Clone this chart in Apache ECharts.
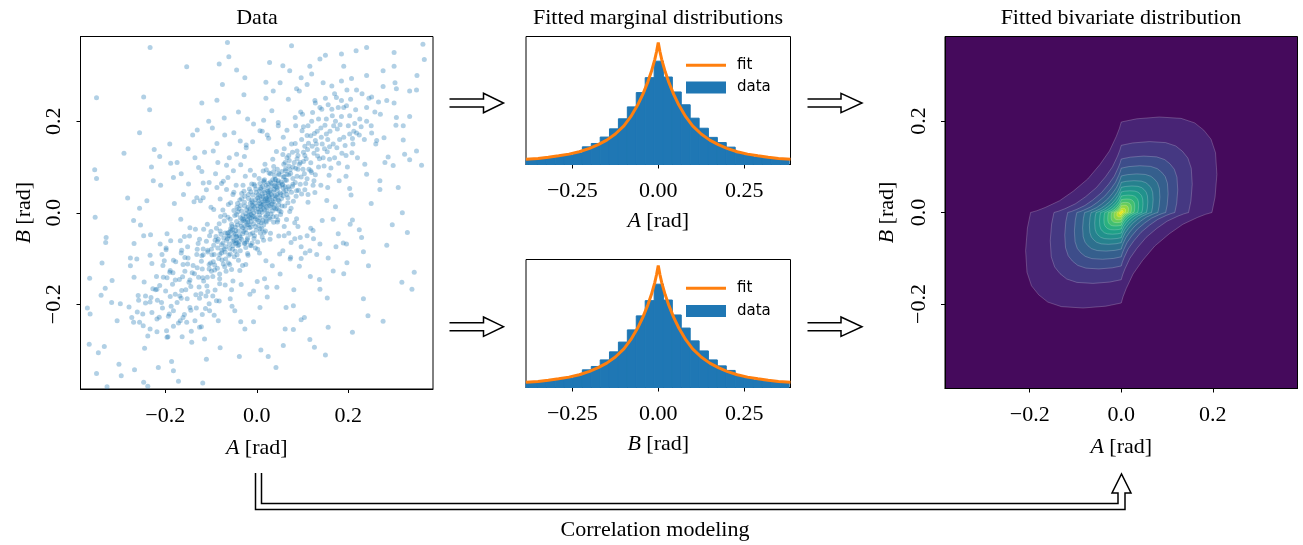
<!DOCTYPE html>
<html>
<head>
<meta charset="utf-8">
<script src="https://cdn.jsdelivr.net/npm/echarts@6/dist/echarts.min.js"></script>
<style>
  html, body { margin: 0; padding: 0; background: #fff; }
  #chart { width: 1303px; height: 545px; }
</style>
</head>
<body>
<div id="chart"></div>
<script>
const scatterPoints = [
  [0.003,0.008],[-0.012,-0.004],[0.018,0.026],[-0.025,-0.019],[0.007,-0.011],[-0.004,0.021],[0.031,0.012],[-0.016,-0.033],[0.012,0.041],[-0.033,0.004],
  [0.024,-0.002],[-0.007,-0.024],[0.041,0.037],[-0.029,-0.041],[0.002,0.033],[0.015,-0.027],[-0.019,0.012],[0.036,0.024],[-0.042,-0.027],[0.009,0.019],
  [-0.001,-0.038],[0.027,0.046],[-0.011,0.028],[0.044,0.009],[-0.036,-0.011],[0.005,0.002],[-0.021,-0.026],[0.020,0.014],[-0.009,0.007],[0.032,0.040],
  [-0.046,-0.039],[0.013,-0.017],[-0.027,0.023],[0.038,0.051],[-0.014,-0.047],[0.022,0.031],[-0.003,-0.013],[0.047,0.028],[-0.038,-0.050],[0.006,0.047],
  [0.017,0.006],[-0.023,-0.008],[0.029,-0.014],[-0.008,0.039],[0.011,-0.035],[-0.031,-0.033],[0.039,0.018],[-0.017,0.002],[0.024,0.055],[-0.044,-0.019],
  [0.001,0.015],[-0.006,-0.056],[0.034,0.004],[-0.026,0.036],[0.051,0.043],[-0.050,-0.045],[0.014,0.024],[-0.012,-0.019],[0.026,0.021],[-0.002,0.052],
  [0.043,-0.008],[-0.035,0.016],[0.008,-0.044],[-0.020,-0.055],[0.019,0.036],[-0.010,0.017],[0.033,0.058],[-0.041,0.002],[0.004,-0.028],[0.028,0.030],
  [-0.015,-0.011],[0.045,0.049],[-0.033,-0.058],[0.010,0.030],[-0.024,-0.002],[0.037,-0.021],[-0.005,0.011],[0.016,0.049],[-0.047,-0.031],[0.021,-0.006],
  [0.004,0.026],[-0.014,-0.002],[0.029,0.016],[-0.031,-0.046],[0.013,0.058],[-0.048,-0.006],[0.054,0.031],[-0.022,-0.064],[0.035,0.072],[-0.057,-0.035],
  [0.010,-0.022],[-0.001,0.044],[0.042,0.064],[-0.039,-0.070],[0.023,0.004],[-0.018,0.031],[0.058,0.054],[-0.064,-0.057],[0.002,-0.064],[0.027,0.087],
  [-0.009,-0.044],[0.048,0.017],[-0.028,0.047],[0.016,0.067],[-0.052,-0.063],[0.066,0.040],[-0.035,-0.022],[0.007,0.036],[-0.012,-0.072],[0.039,0.081],
  [0.031,-0.003],[-0.043,0.012],[0.019,-0.040],[-0.004,0.059],[0.053,0.067],[-0.058,-0.014],[0.012,0.001],[-0.025,-0.037],[0.044,0.034],[-0.016,0.052],
  [0.001,-0.016],[-0.032,-0.013],[0.025,0.043],[-0.045,-0.053],[0.060,0.079],[-0.007,0.000],[0.014,0.091],[-0.069,-0.044],[0.071,0.052],[-0.020,-0.089],
  [0.008,0.052],[-0.037,0.028],[0.049,0.005],[-0.003,-0.030],[0.036,0.046],[-0.053,-0.080],[0.020,-0.018],[-0.011,0.063],[0.063,0.096],[-0.074,-0.066],
  [0.011,0.016],[-0.019,-0.021],[0.027,0.035],[-0.034,-0.030],[0.006,-0.005],[-0.010,0.024],[0.038,0.011],[-0.023,-0.044],[0.017,0.044],[-0.039,0.009],
  [0.033,0.027],[-0.013,-0.031],[0.050,0.058],[-0.049,-0.061],[0.003,0.039],[0.021,-0.020],[-0.026,0.015],[0.045,0.040],[-0.055,-0.025],[0.014,0.010],
  [-0.005,-0.050],[0.032,0.064],[-0.018,0.040],[0.055,0.015],[-0.044,-0.004],[0.009,0.006],[-0.029,-0.017],[0.024,0.022],[-0.015,0.009],[0.040,0.030],
  [-0.060,-0.050],[0.018,-0.010],[-0.033,0.031],[0.047,0.070],[-0.021,-0.059],[0.026,0.038],[-0.008,-0.008],[0.058,0.037],[-0.046,-0.067],[0.009,0.055],
  [0.022,0.012],[-0.028,-0.014],[0.036,-0.009],[-0.013,0.046],[0.016,-0.043],[-0.040,-0.040],[0.049,0.025],[-0.022,0.006],[0.030,0.067],[-0.054,-0.030],
  [0.006,0.021],[-0.010,-0.066],[0.041,0.008],[-0.033,0.042],[0.062,0.057],[-0.063,-0.051],[0.019,0.030],[-0.017,-0.026],[0.033,0.019],[-0.006,0.062],
  [0.052,-0.004],[-0.042,0.020],[0.012,-0.053],[-0.027,-0.067],[0.024,0.047],[-0.014,0.021],[0.041,0.073],[-0.050,0.005],[0.007,-0.035],[0.035,0.036],
  [-0.020,-0.016],[0.056,0.063],[-0.041,-0.072],[0.013,0.035],[-0.030,-0.006],[0.046,-0.016],[-0.008,0.015],[0.021,0.060],[-0.057,-0.040],[0.027,-0.011],
  [0.000,0.002],[-0.004,-0.009],[0.008,0.013],[-0.012,-0.012],[0.015,0.019],[-0.018,-0.007],[0.023,0.027],[-0.026,-0.029],[0.004,-0.019],[-0.002,0.029],
  [0.029,0.049],[-0.036,-0.054],[0.044,0.054],[-0.047,-0.047],[0.039,0.059],[-0.038,-0.063],[0.065,0.071],[-0.068,-0.074],[0.070,0.083],[-0.076,-0.082],
  [0.017,0.072],[-0.024,-0.076],[0.068,0.022],[-0.071,-0.018],[0.059,0.046],[-0.061,-0.043],[0.048,0.086],[-0.047,-0.084],[0.079,0.062],[-0.084,-0.058],
  [0.005,0.075],[-0.003,-0.077],[0.075,0.010],[-0.079,-0.008],[0.037,0.090],[-0.043,-0.092],[0.087,0.048],[-0.089,-0.052],[0.073,0.094],[-0.081,-0.091],
  [0.062,0.071],[0.055,0.090],[0.078,0.058],[0.070,0.102],[0.088,0.080],[-0.060,-0.068],[-0.072,-0.055],[-0.058,-0.090],[-0.085,-0.077],[-0.068,-0.101],
  [0.095,0.062],[0.064,0.048],[0.049,0.083],[0.082,0.110],[0.101,0.095],[-0.091,-0.060],[-0.052,-0.072],[-0.077,-0.088],[-0.098,-0.092],[-0.064,-0.044],
  [0.040,0.072],[0.068,0.033],[0.056,0.061],[0.091,0.049],[0.074,0.086],[-0.043,-0.066],[-0.080,-0.040],[-0.055,-0.054],[-0.094,-0.071],[-0.071,-0.079],
  [0.030,0.085],[0.098,0.041],[0.059,0.106],[0.110,0.074],[0.085,0.097],[-0.036,-0.083],[-0.103,-0.050],[-0.062,-0.110],[-0.107,-0.086],[-0.083,-0.100],
  [0.061,0.015],[0.015,0.070],[0.072,0.003],[-0.005,0.082],[0.080,0.025],[-0.063,-0.010],[-0.014,-0.071],[-0.074,0.006],[0.002,-0.080],[-0.082,-0.024],
  [0.045,0.095],[0.105,0.050],[0.066,0.120],[0.118,0.092],[0.090,0.125],[-0.049,-0.096],[-0.100,-0.041],[-0.070,-0.118],[-0.120,-0.094],[-0.092,-0.125],
  [0.052,0.040],[0.047,0.065],[0.069,0.057],[0.058,0.078],[0.076,0.045],[-0.053,-0.037],[-0.045,-0.061],[-0.066,-0.060],[-0.059,-0.078],[-0.078,-0.047],
  [0.025,0.064],[0.084,0.066],[0.037,0.101],[0.097,0.078],[0.063,0.092],[-0.026,-0.066],[-0.086,-0.063],[-0.040,-0.104],[-0.099,-0.080],[-0.061,-0.093],
  [0.053,0.002],[0.007,0.064],[-0.052,0.040],[0.048,-0.051],[-0.030,0.060],[0.060,-0.030],[-0.057,0.022],[0.029,-0.058],[-0.066,0.051],[0.070,-0.045],
  [0.035,0.117],[0.112,0.040],[0.078,0.132],[0.128,0.083],[0.102,0.112],[-0.031,-0.115],[-0.116,-0.036],[-0.081,-0.134],[-0.130,-0.080],[-0.104,-0.113],
  [0.042,0.057],[0.086,0.036],[0.021,0.094],[0.071,0.114],[0.107,0.064],[-0.044,-0.052],[-0.088,-0.034],[-0.019,-0.093],[-0.073,-0.112],[-0.110,-0.062],
  [0.093,0.106],[0.057,0.127],[0.123,0.060],[0.079,0.075],[0.066,0.084],[-0.095,-0.107],[-0.055,-0.124],[-0.125,-0.058],[-0.077,-0.070],[-0.069,-0.086],
  [0.105,0.125],[0.118,0.109],[0.132,0.138],[0.095,0.110],[0.141,0.165],[0.113,0.152],[0.154,0.133],[0.126,0.173],[0.167,0.150],[0.102,0.132],
  [0.137,0.118],[0.149,0.191],[0.121,0.145],[0.176,0.183],[0.088,0.118],[0.159,0.117],[0.110,0.169],[0.193,0.147],[0.135,0.205],[0.172,0.200],
  [0.090,0.095],[0.147,0.102],[0.084,0.151],[0.181,0.160],[0.114,0.095],[0.128,0.158],[0.164,0.226],[0.203,0.212],[0.152,0.172],[0.190,0.230],
  [0.099,0.179],[0.179,0.108],[0.214,0.195],[0.133,0.124],[0.159,0.144],[0.122,0.219],[0.224,0.170],[0.186,0.130],[0.143,0.150],[0.111,0.138],
  [0.070,0.125],[0.125,0.070],[0.079,0.100],[0.104,0.085],[0.062,0.110],[0.155,0.055],[0.058,0.165],[0.195,0.080],[0.085,0.190],[0.240,0.200],
  [0.216,0.225],[0.245,0.250],[0.185,0.245],[0.258,0.220],[0.228,0.188],[0.197,0.268],[0.266,0.242],[0.168,0.190],[0.209,0.162],[0.156,0.236],
  [-0.104,-0.123],[-0.121,-0.106],[-0.136,-0.133],[-0.092,-0.114],[-0.144,-0.161],[-0.116,-0.149],[-0.157,-0.128],[-0.122,-0.177],[-0.169,-0.146],[-0.099,-0.128],
  [-0.139,-0.115],[-0.152,-0.188],[-0.118,-0.142],[-0.178,-0.178],[-0.086,-0.121],[-0.161,-0.113],[-0.107,-0.172],[-0.196,-0.142],[-0.132,-0.208],[-0.174,-0.196],
  [-0.093,-0.091],[-0.150,-0.099],[-0.081,-0.155],[-0.184,-0.156],[-0.117,-0.092],[-0.126,-0.162],[-0.161,-0.229],[-0.206,-0.208],[-0.155,-0.168],[-0.193,-0.226],
  [-0.096,-0.182],[-0.182,-0.104],[-0.217,-0.191],[-0.130,-0.120],[-0.162,-0.140],[-0.119,-0.222],[-0.227,-0.166],[-0.189,-0.126],[-0.146,-0.147],[-0.108,-0.141],
  [-0.067,-0.128],[-0.128,-0.067],[-0.076,-0.103],[-0.107,-0.082],[-0.059,-0.113],[-0.158,-0.052],[-0.055,-0.168],[-0.198,-0.077],[-0.082,-0.193],[-0.243,-0.197],
  [-0.213,-0.228],[-0.248,-0.247],[-0.182,-0.248],[-0.261,-0.217],[-0.231,-0.185],[-0.194,-0.271],[-0.269,-0.239],[-0.165,-0.187],[-0.212,-0.159],[-0.153,-0.239],
  [0.130,0.150],[0.145,0.120],[0.160,0.178],[0.118,0.168],[0.175,0.142],[0.152,0.205],[0.190,0.165],[0.135,0.100],[0.105,0.145],[0.170,0.120],
  [0.200,0.190],[0.140,0.185],[0.185,0.210],[0.125,0.130],[0.162,0.098],[0.098,0.160],[0.210,0.150],[0.155,0.160],[0.120,0.200],[0.195,0.125],
  [0.225,0.205],[0.178,0.230],[0.148,0.140],[0.132,0.178],[0.212,0.178],[0.165,0.212],[0.108,0.118],[0.182,0.192],[0.142,0.226],[0.235,0.160],
  [0.120,0.088],[0.088,0.135],[0.158,0.082],[0.076,0.150],[0.198,0.100],[0.112,0.190],[0.240,0.230],[0.205,0.248],[0.250,0.190],[0.170,0.260],
  [0.140,0.060],[0.060,0.140],[0.180,0.070],[0.100,0.215],[0.220,0.120],[0.128,0.240],[0.260,0.150],[0.150,0.250],[0.230,0.260],[0.270,0.215],
  [-0.127,-0.141],[-0.151,-0.112],[-0.168,-0.182],[-0.109,-0.160],[-0.183,-0.131],[-0.144,-0.213],[-0.199,-0.171],[-0.131,-0.091],[-0.096,-0.139],[-0.177,-0.107],
  [-0.208,-0.196],[-0.133,-0.179],[-0.191,-0.221],[-0.119,-0.123],[-0.165,-0.088],[-0.091,-0.169],[-0.219,-0.139],[-0.148,-0.152],[-0.112,-0.209],[-0.205,-0.115],
  [-0.233,-0.195],[-0.171,-0.241],[-0.141,-0.131],[-0.125,-0.187],[-0.221,-0.168],[-0.158,-0.222],[-0.101,-0.110],[-0.189,-0.183],[-0.135,-0.236],[-0.246,-0.151],
  [-0.117,-0.079],[-0.081,-0.144],[-0.151,-0.074],[-0.069,-0.158],[-0.207,-0.091],[-0.104,-0.199],[-0.249,-0.221],[-0.197,-0.258],[-0.259,-0.181],[-0.163,-0.271],
  [-0.147,-0.051],[-0.052,-0.149],[-0.188,-0.061],[-0.093,-0.224],[-0.229,-0.111],[-0.121,-0.249],[-0.268,-0.141],[-0.143,-0.259],[-0.238,-0.269],[-0.279,-0.206],
  [0.112,0.023],[0.018,0.106],[-0.108,-0.025],[-0.024,-0.113],[0.127,0.044],[0.043,0.134],[-0.134,-0.036],[-0.037,-0.126],[0.087,-0.013],[-0.014,0.093],
  [-0.094,0.007],[0.006,-0.088],[0.153,0.027],[0.026,0.163],[-0.146,-0.033],[-0.034,-0.157],[0.118,-0.034],[-0.027,0.123],[-0.123,0.026],[0.034,-0.116],
  [0.083,-0.057],[-0.063,0.077],[-0.077,0.064],[0.057,-0.083],[0.172,0.013],[0.012,0.178],[-0.166,-0.014],[-0.007,-0.171],[0.097,-0.074],[-0.066,0.104],
  [-0.104,0.066],[0.074,-0.097],[0.143,-0.017],[-0.023,0.148],[-0.137,0.024],[0.017,-0.144],[0.203,0.053],[0.047,0.197],[-0.196,-0.046],[-0.054,-0.204],
  [-0.060,0.120],[-0.085,0.110],[-0.120,0.090],[-0.150,0.140],[-0.070,0.170],[-0.160,0.040],[-0.190,0.150],[-0.105,0.200],[-0.040,0.220],[-0.210,0.060],
  [-0.180,0.020],[-0.050,0.175],[-0.135,0.120],[-0.095,0.135],[-0.020,0.205],[-0.165,0.085],[-0.230,0.100],[-0.120,0.240],[-0.075,0.280],[-0.290,0.130],
  [0.124,-0.057],[0.106,-0.088],[0.093,-0.117],[0.137,-0.146],[0.173,-0.074],[0.044,-0.163],[0.154,-0.186],[0.197,-0.109],[0.224,-0.037],[0.064,-0.207],
  [0.023,-0.184],[0.178,-0.046],[0.117,-0.139],[0.131,-0.091],[0.209,-0.016],[0.081,-0.168],[0.097,-0.234],[0.244,-0.116],[0.284,-0.071],[0.126,-0.294],
  [0.250,0.020],[0.280,0.110],[0.320,0.190],[0.300,0.240],[0.350,0.300],[0.020,0.250],[0.110,0.280],[0.190,0.320],[0.240,0.300],[0.300,0.350],
  [-0.254,-0.027],[-0.276,-0.116],[-0.317,-0.196],[-0.305,-0.236],[-0.346,-0.306],[-0.026,-0.254],[-0.114,-0.276],[-0.186,-0.325],[-0.245,-0.296],[-0.296,-0.356],
  [-0.233,0.361],[-0.064,0.372],[-0.061,0.341],[-0.082,0.325],[-0.153,0.319],[-0.044,0.312],[-0.026,0.295],[-0.350,0.251],[-0.247,0.253],[-0.234,0.225],
  [-0.087,0.246],[-0.256,0.175],[-0.224,0.138],[-0.212,0.123],[-0.354,0.094],[-0.350,0.075],[-0.282,0.032],
  [-0.130,0.181],[-0.140,0.170],[-0.097,0.185],[-0.087,0.151],[-0.071,0.207],[-0.114,0.132],[-0.174,0.110],[-0.188,0.108],[-0.127,0.099],[-0.182,0.077],
  [-0.149,0.063],[-0.117,0.065],[-0.240,0.026],[-0.226,0.070],[-0.256,0.010],
  [-0.131,0.033],[-0.117,0.033],[-0.087,0.055],[-0.073,0.069],[-0.051,0.092],[-0.044,0.128],[-0.023,0.142],[-0.036,0.157],[-0.009,0.155],[0.007,0.179],
  [0.023,0.170],[0.047,0.190],[0.066,0.180],[0.084,0.208],[0.102,0.188],[0.096,0.220],[0.138,0.230],[0.196,0.234],
  [-0.028,0.258],[-0.007,0.194],[0.015,0.202],[0.033,0.223],[0.020,0.285],[0.036,0.266],[0.051,0.284],[0.072,0.310],[0.097,0.295],[0.087,0.271],
  [0.120,0.303],[0.145,0.284],[0.164,0.277],[0.185,0.288],[0.207,0.293],[0.218,0.268],[0.174,0.252],[0.127,0.245],[0.093,0.266],[0.069,0.248],
  [0.251,0.253],[0.276,0.276],[0.302,0.284],[0.305,0.271],[0.284,0.245],[0.305,0.208],[0.304,0.191],[0.278,0.164],[0.262,0.158],[0.287,0.122],
  [0.298,0.103],[0.269,0.070],[0.240,0.084],[0.269,0.051],[0.323,0.128],[0.334,0.116],[0.236,0.106],[0.208,0.131],[0.203,0.172],[0.218,0.174],
  [0.251,0.174],[0.206,0.039],
  [0.076,0.365],[0.363,0.368],[0.366,0.335],[0.240,0.361],[0.217,0.354],[0.185,0.347],[0.150,0.344],[0.138,0.336],[0.116,0.320],[0.057,0.321],
  [0.028,0.328],[0.276,0.310],[0.300,0.320],[0.334,0.266],[0.349,0.268],[0.360,0.104],[0.334,0.210],[0.320,0.159],[0.349,0.135],[0.309,0.055],[0.318,0.000],
  [0.329,-0.043],[0.296,-0.026],[0.233,-0.085],[0.189,-0.066],[0.167,-0.127],[0.190,-0.133],[0.138,-0.167],[0.080,-0.203],[0.062,-0.254],[0.007,-0.207],
  [-0.007,-0.238],[0.317,-0.152],[0.339,-0.167],[0.344,-0.130],[0.233,-0.188],[0.276,-0.237],[0.243,-0.225],[0.209,-0.261],[0.156,-0.250],[0.150,-0.311],
  [0.116,-0.277],[0.104,-0.229],[0.080,-0.255],[0.058,-0.290],[0.042,-0.338],[0.025,-0.314],[0.009,-0.300],[-0.038,-0.314],[-0.080,-0.295],[-0.110,-0.320],
  [-0.118,-0.372],[-0.182,-0.345],[-0.171,-0.368],[-0.215,-0.338],[-0.238,-0.379],[-0.247,-0.370],[-0.267,-0.343],[-0.301,-0.331],[-0.327,-0.380],[-0.350,-0.351],
  [-0.333,-0.292],[-0.366,-0.287],[-0.364,-0.221],[-0.370,-0.208],[-0.298,-0.199],[-0.340,-0.180],[-0.331,-0.165],[-0.316,-0.148],[-0.365,-0.143],[-0.338,-0.110],
  [-0.330,-0.065],[-0.329,-0.054],[-0.353,-0.010],
  [-0.269,-0.017],[-0.247,-0.050],[-0.232,-0.048],[-0.268,-0.067],[-0.276,-0.099],[-0.262,-0.101],[-0.233,-0.093],[-0.211,-0.068],[-0.198,-0.081],[-0.167,-0.061],
  [-0.164,-0.082],[-0.157,-0.098],[-0.202,-0.105],[-0.204,-0.141],[-0.190,-0.130],[-0.178,-0.147],[-0.164,-0.170],[-0.218,-0.167],[-0.258,-0.191],[-0.243,-0.182],
  [-0.229,-0.218],[-0.218,-0.232],[-0.273,-0.229],[-0.256,-0.239],[-0.233,-0.254],[-0.218,-0.260],[-0.196,-0.272],[-0.182,-0.214],[-0.187,-0.204],[-0.146,-0.207],
  [-0.142,-0.283],[-0.125,-0.250],[-0.103,-0.214],[-0.084,-0.236],[-0.058,-0.188],[-0.048,-0.214],[-0.035,-0.238],[-0.088,-0.192],[-0.111,-0.182],[-0.167,-0.236],
  [0.051,-0.134],[0.022,-0.163],[0.001,-0.150],[-0.015,-0.178],[0.073,-0.101],[0.097,-0.100],[0.116,-0.083],[0.138,-0.068],[0.156,-0.099],[0.196,-0.068],
  [0.229,-0.054],[0.204,-0.025],[0.167,-0.014],[0.123,-0.039],[0.095,-0.054],[0.083,-0.022],
  [-0.100,0.012],[-0.080,0.030],[-0.062,0.018],[-0.050,0.045],[-0.090,0.085],[-0.025,0.080],[-0.045,0.060],[-0.070,-0.005],[-0.110,0.050],[-0.035,0.105],
  [0.045,-0.020],[0.065,-0.015],[0.030,-0.045],[0.075,-0.065],[0.050,-0.090],[0.015,-0.060],[0.090,-0.030],[0.110,-0.050],[0.020,-0.105],[0.060,-0.050]
];

// histogram bin edges (shared) and bar heights (density)
const binEdges = [-0.405,-0.378,-0.352,-0.326,-0.300,-0.273,-0.247,-0.221,-0.195,-0.169,-0.142,-0.116,-0.090,-0.064,-0.038,-0.012,
  0.015,0.041,0.067,0.093,0.119,0.146,0.172,0.198,0.224,0.250,0.277,0.303,0.329,0.355,0.381];
const countsA = [0.15,0.17,0.19,0.22,0.26,0.31,0.38,0.58,0.69,0.90,1.17,1.50,1.89,2.36,2.85,3.39,
  2.87,2.38,1.96,1.52,1.19,0.89,0.72,0.57,0.37,0.30,0.25,0.21,0.18,0.155];
const countsB = [0.15,0.17,0.20,0.22,0.26,0.31,0.39,0.58,0.69,0.905,1.17,1.49,1.89,2.35,2.85,3.39,
  2.87,2.38,1.95,1.53,1.20,0.905,0.71,0.56,0.38,0.30,0.25,0.21,0.18,0.16];

// fitted marginal density
const fitCurve = [[-0.385,0.17],[-0.35,0.20],[-0.32,0.235],[-0.29,0.285],[-0.26,0.34],[-0.23,0.42],[-0.20,0.53],[-0.175,0.65],
  [-0.15,0.80],[-0.125,1.00],[-0.10,1.27],[-0.08,1.57],[-0.06,1.95],[-0.045,2.30],[-0.03,2.72],[-0.02,3.05],[-0.01,3.45],[-0.005,3.70],
  [0,4.00],[0.005,3.70],[0.01,3.45],[0.02,3.05],[0.03,2.72],[0.045,2.30],[0.06,1.95],[0.08,1.57],[0.10,1.27],[0.125,1.00],
  [0.15,0.80],[0.175,0.65],[0.20,0.53],[0.23,0.42],[0.26,0.34],[0.29,0.285],[0.32,0.235],[0.35,0.20],[0.385,0.17]];

// bivariate contour levels: half-size of each level on the axes, and band colours
const levelRadius = [0.198,0.147,0.117,0.097,0.080,0.066,0.055,0.045,0.036,0.028,0.021,0.015,0.009,0.004];
const levelColors = ['#482475','#453882','#3d4d8a','#355f8d','#2d708e','#26818e','#21918c','#1fa088','#2ab07f','#44bf70','#67cc5c','#90d743','#bddf26','#e9e51a'];
// outline of a level, normalised to its axis crossing (first and fourth quadrant)
const outlineQ1 = [[0,1],[0.17,1.035],[0.42,1.055],[0.66,1.04],[0.81,0.99],[0.91,0.91],[0.99,0.81],[1.04,0.66],[1.055,0.42],[1.035,0.17],[1,0]];
const outlineQ4 = [[1,0],[0.93,-0.02],[0.84,-0.055],[0.68,-0.13],[0.53,-0.235],[0.37,-0.37],[0.235,-0.53],[0.13,-0.68],[0.055,-0.84],[0.02,-0.93],[0,-1]];

const ticksScatter = [-0.2, 0, 0.2];
const ticksHist = [-0.25, 0, 0.25];

const serif = 'Liberation Serif';
const fmt = digits => v => (v < 0 ? '\u2212' : '') + Math.abs(v).toFixed(digits);

function frameAxis(grid, ticks, digits, name, isY, nameGap) {
    return {
        type: 'value', gridIndex: grid, min: -0.385, max: 0.385,
        axisLine: { show: true, onZero: false, lineStyle: { color: '#000', width: 1 } },
        splitLine: { show: false },
        axisTick: { show: true, customValues: ticks, length: 4, lineStyle: { color: '#000', width: 1 } },
        axisLabel: {
            customValues: ticks, formatter: fmt(digits), color: '#000',
            fontFamily: serif, fontSize: 22, margin: isY ? 15 : 16, rotate: isY ? 90 : 0
        },
        name: name, nameLocation: 'middle', nameGap: nameGap,
        nameTextStyle: {
            color: '#000', fontFamily: serif, fontSize: 22,
            rich: { i: { fontStyle: 'italic', fontFamily: serif, fontSize: 22, color: '#000' } }
        }
    };
}

function histAxisY(grid) {
    return { type: 'value', gridIndex: grid, min: 0, max: 4.2, show: false };
}

function histData(counts) {
    return counts.map((c, i) => [binEdges[i], binEdges[i + 1], c]);
}

function renderBar(params, api) {
    const p0 = api.coord([api.value(0), 0]);
    const p1 = api.coord([api.value(1), api.value(2)]);
    const rect = echarts.graphic.clipRectByRect(
        { x: p0[0], y: p1[1], width: p1[0] - p0[0], height: p0[1] - p1[1] },
        params.coordSys
    );
    if (!rect) return;
    return { type: 'rect', shape: rect, style: { fill: '#1f77b4', stroke: '#1f77b4', lineWidth: 1 } };
}

function renderLevel(params, api) {
    const r = levelRadius[params.dataIndex];
    const pts = [];
    outlineQ1.forEach(p => pts.push([p[0] * r, p[1] * r]));
    outlineQ4.slice(1).forEach(p => pts.push([p[0] * r, p[1] * r]));
    outlineQ1.slice(1).forEach(p => pts.push([-p[0] * r, -p[1] * r]));
    outlineQ4.slice(1, -1).forEach(p => pts.push([-p[0] * r, -p[1] * r]));
    return {
        type: 'polygon',
        shape: { points: pts.map(p => api.coord(p)) },
        style: { fill: levelColors[params.dataIndex], stroke: 'rgba(255,255,255,0.3)', lineWidth: 0.7 }
    };
}

function arrow(x0, xh, xa, yc) {
    return {
        type: 'polyline',
        shape: { points: [[x0, yc - 4], [xh, yc - 4], [xh, yc - 9.7], [xa, yc], [xh, yc + 9.7], [xh, yc + 4], [x0, yc + 4]] },
        style: { stroke: '#000', lineWidth: 1.5, fill: null }
    };
}

function label(text, x, y) {
    return {
        type: 'text',
        style: { text: text, x: x, y: y, textAlign: 'center', textVerticalAlign: 'middle', font: '22px "Liberation Serif"', fill: '#000' }
    };
}

const legendBase = {
    padding: 0, itemGap: 0, itemWidth: 40, selectedMode: false, icon: 'rect',
    textStyle: { fontFamily: 'DejaVu Sans', fontSize: 15, color: '#000', padding: [0, 0, 0, 6] }
};

const chart = echarts.init(document.getElementById('chart'));
chart.setOption({
    animation: false,
    grid: [
        { left: 80.5, top: 36.5, width: 352.5, height: 352.5, show: true, borderColor: '#000', borderWidth: 1 },
        { left: 526, top: 36.5, width: 264.5, height: 128, show: true, borderColor: '#000', borderWidth: 1 },
        { left: 526, top: 259.5, width: 264.5, height: 128, show: true, borderColor: '#000', borderWidth: 1 },
        { left: 945, top: 36.5, width: 352.5, height: 352, show: true, borderColor: '#000', borderWidth: 1, backgroundColor: '#450a5c' }
    ],
    xAxis: [
        frameAxis(0, ticksScatter, 1, '{i|A} [rad]', false, 48),
        frameAxis(1, ticksHist, 2, '{i|A} [rad]', false, 46),
        frameAxis(2, ticksHist, 2, '{i|B} [rad]', false, 46),
        frameAxis(3, ticksScatter, 1, '{i|A} [rad]', false, 48)
    ],
    yAxis: [
        frameAxis(0, ticksScatter, 1, '{i|B} [rad]', true, 45),
        histAxisY(1),
        histAxisY(2),
        frameAxis(3, ticksScatter, 1, '{i|B} [rad]', true, 47)
    ],
    legend: [
        Object.assign({}, legendBase, { data: ['fit'], left: 686, top: 57.8, itemHeight: 3 }),
        Object.assign({}, legendBase, { data: ['data'], left: 686, top: 80, itemHeight: 12 }),
        Object.assign({}, legendBase, { data: ['fit'], left: 686, top: 280.8, itemHeight: 3 }),
        Object.assign({}, legendBase, { data: ['data'], left: 686, top: 303.5, itemHeight: 12 })
    ],
    series: [
        {
            type: 'scatter', xAxisIndex: 0, yAxisIndex: 0, data: scatterPoints, silent: true,
            symbolSize: 5, itemStyle: { color: '#1f77b4', opacity: 0.35 }
        },
        {
            name: 'data', type: 'custom', xAxisIndex: 1, yAxisIndex: 1, data: histData(countsA),
            encode: { x: [0, 1], y: 2 }, renderItem: renderBar, itemStyle: { color: '#1f77b4' }, silent: true
        },
        {
            name: 'fit', type: 'line', xAxisIndex: 1, yAxisIndex: 1, data: fitCurve, showSymbol: false, silent: true,
            color: '#ff7f0e', lineStyle: { color: '#ff7f0e', width: 3 }, z: 3
        },
        {
            name: 'data', type: 'custom', xAxisIndex: 2, yAxisIndex: 2, data: histData(countsB),
            encode: { x: [0, 1], y: 2 }, renderItem: renderBar, itemStyle: { color: '#1f77b4' }, silent: true
        },
        {
            name: 'fit', type: 'line', xAxisIndex: 2, yAxisIndex: 2, data: fitCurve, showSymbol: false, silent: true,
            color: '#ff7f0e', lineStyle: { color: '#ff7f0e', width: 3 }, z: 3
        },
        {
            type: 'custom', xAxisIndex: 3, yAxisIndex: 3, data: levelRadius.map((r, i) => [r, i]),
            encode: { x: 0, y: 0 }, renderItem: renderLevel, silent: true
        }
    ],
    graphic: [
        label('Data', 257, 18.5),
        label('Fitted marginal distributions', 658, 18.5),
        label('Fitted bivariate distribution', 1121, 18.5),
        label('Correlation modeling', 655, 530.5),
        arrow(449.5, 483.5, 503.5, 103),
        arrow(807.5, 841, 862, 103),
        arrow(449.5, 483.5, 503.5, 326.7),
        arrow(807.5, 841, 862, 326.7),
        {
            type: 'polyline',
            shape: {
                points: [[255.5, 473], [255.5, 509.5], [1125, 509.5], [1125, 493], [1131, 493], [1121.5, 474],
                    [1112, 493], [1118, 493], [1118, 503.5], [261.5, 503.5], [261.5, 473]]
            },
            style: { stroke: '#000', lineWidth: 1.5, fill: null }
        }
    ]
});
</script>
</body>
</html>
